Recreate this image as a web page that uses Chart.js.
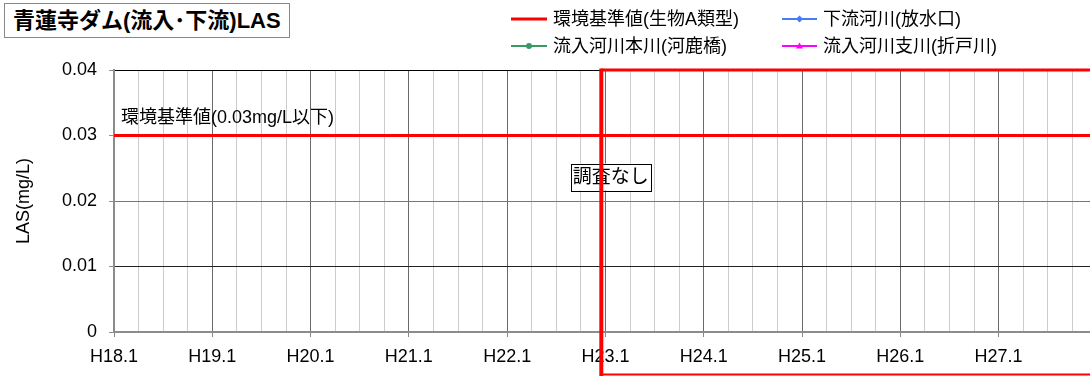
<!DOCTYPE html>
<html>
<head>
<meta charset="utf-8">
<script src="https://cdn.jsdelivr.net/npm/chart.js@4.4.1/dist/chart.umd.min.js"></script>
<style>
html,body{margin:0;padding:0;background:#fff;overflow:hidden;}
#wrap{position:relative;width:1090px;height:376px;background:#fff;}
canvas{position:absolute;left:0;top:0;}
.t{position:absolute;font-family:'Liberation Sans','Noto Sans CJK JP',sans-serif;white-space:nowrap;color:#000;}
#title{left:4px;top:3px;width:286px;height:35px;border:1px solid #888;box-sizing:border-box;font-weight:bold;font-size:22px;line-height:33px;padding-left:8px;background:#fff;}
.leg{font-size:18px;line-height:22px;height:22px;display:flex;align-items:center;}
.leg svg{display:block;margin-right:4px;}
</style>
</head>
<body>
<div id="wrap">
<canvas id="c" width="1090" height="376"></canvas>
<div id="title" class="t">青蓮寺ダム(流入･下流)LAS</div>
<div class="t leg" style="left:509px;top:8px;"><svg width="40" height="22"><line x1="2" y1="11" x2="38" y2="11" stroke="#ff0000" stroke-width="3"/></svg>環境基準値(生物A類型)</div>
<div class="t leg" style="left:779px;top:8px;"><svg width="40" height="22"><line x1="3" y1="11" x2="38" y2="11" stroke="#4a7af5" stroke-width="2"/><rect x="18" y="8.5" width="5" height="5" fill="#4a7af5" transform="rotate(45 20.5 11)"/></svg>下流河川(放水口)</div>
<div class="t leg" style="left:509px;top:35px;"><svg width="40" height="22"><line x1="2" y1="11" x2="38" y2="11" stroke="#3a9a64" stroke-width="2"/><circle cx="20" cy="11" r="3" fill="#3a9a64"/></svg>流入河川本川(河鹿橋)</div>
<div class="t leg" style="left:779px;top:35px;"><svg width="40" height="22"><line x1="3" y1="11" x2="38" y2="11" stroke="#ff00ff" stroke-width="2"/><polygon points="20.5,7.5 24,13.5 17,13.5" fill="#ff00ff"/></svg>流入河川支川(折戸川)</div>
</div>
<script>
// ---- data ----
const xTickLabels = ['H18.1','H19.1','H20.1','H21.1','H22.1','H23.1','H24.1','H25.1','H26.1','H27.1'];
const yTickValues = [0, 0.01, 0.02, 0.03, 0.04];
const standardValue = 0.03;           // 環境基準値 (mg/L)
const seriesNames = ['環境基準値(生物A類型)','下流河川(放水口)','流入河川本川(河鹿橋)','流入河川支川(折戸川)'];
const downstreamValues = [];          // 下流河川(放水口)   – no plotted values
const inflowMainValues = [];          // 流入河川本川(河鹿橋) – no plotted values
const inflowBranchValues = [];        // 流入河川支川(折戸川) – no plotted values
const noSurveyStart = 4.958;          // years after H18.1 (end of H22.12)
const xMaxYears = 9.93;               // visible span in years after H18.1
const standardLabel = '環境基準値(0.03mg/L以下)';
const noSurveyLabel = '調査なし';

const FONT = "'Liberation Sans','Noto Sans CJK JP',sans-serif";
Chart.defaults.font.family = FONT;
Chart.defaults.color = '#000';

const quarterTicks = [];
for (let i = 0; i * 0.25 <= xMaxYears; i++) quarterTicks.push({value: i * 0.25});

const overlay = {
  id: 'overlay',
  afterDraw(chart) {
    const {ctx, scales: {x, y}} = chart;
    ctx.save();
    // standard label
    ctx.font = '18px ' + FONT;
    ctx.fillStyle = '#000';
    ctx.textAlign = 'left';
    ctx.textBaseline = 'middle';
    ctx.fillText(standardLabel, x.getPixelForValue(0) + 7, y.getPixelForValue(standardValue) - 17);
    // no survey box
    const cx = x.getPixelForValue(5.054), cy = y.getPixelForValue(0.02366);
    ctx.fillStyle = '#fff';
    ctx.fillRect(cx - 40, cy - 13.5, 80, 27);
    ctx.strokeStyle = '#000';
    ctx.lineWidth = 1;
    ctx.strokeRect(Math.round(cx - 40) + 0.5, Math.round(cy - 13.5) + 0.5, 80, 27);
    ctx.font = '19px ' + FONT;
    ctx.fillStyle = '#000';
    ctx.textAlign = 'center';
    ctx.fillText(noSurveyLabel, cx, cy + 1);
    // red no-survey frame
    const L = x.getPixelForValue(noSurveyStart);
    const T = y.getPixelForValue(0.04);
    ctx.strokeStyle = '#ff0000';
    ctx.lineWidth = 3;
    ctx.beginPath(); ctx.moveTo(L, T); ctx.lineTo(chart.width + 5, T); ctx.stroke();
    ctx.lineWidth = 2;
    ctx.beginPath(); ctx.moveTo(L, chart.height - 1.5); ctx.lineTo(chart.width + 5, chart.height - 1.5); ctx.stroke();
    ctx.lineWidth = 4;
    ctx.beginPath(); ctx.moveTo(L, T - 1.5); ctx.lineTo(L, chart.height + 2); ctx.stroke();
    ctx.restore();
  }
};

new Chart(document.getElementById('c'), {
  type: 'line',
  data: {
    datasets: [
      {label: seriesNames[0], data: [{x: 0, y: standardValue}, {x: xMaxYears, y: standardValue}],
       borderColor: '#ff0000', borderWidth: 3, pointRadius: 0, order: 0},
      {label: seriesNames[1], data: downstreamValues, borderColor: '#4a7af5', backgroundColor: '#4a7af5', borderWidth: 2, pointStyle: 'rectRot', pointRadius: 3},
      {label: seriesNames[2], data: inflowMainValues, borderColor: '#3a9a64', backgroundColor: '#3a9a64', borderWidth: 2, pointRadius: 3},
      {label: seriesNames[3], data: inflowBranchValues, borderColor: '#ff00ff', backgroundColor: '#ff00ff', borderWidth: 2, pointStyle: 'triangle', pointRadius: 3}
    ]
  },
  options: {
    responsive: false,
    animation: false,
    parsing: true,
    layout: {padding: {top: 70, left: 0, right: 0, bottom: 0}},
    plugins: {legend: {display: false}, title: {display: false}, tooltip: {enabled: false}},
    scales: {
      x: {
        type: 'linear', min: 0, max: xMaxYears,
        afterBuildTicks: s => { s.ticks = quarterTicks.map(t => ({value: t.value})); },
        afterFit: s => { s.height = 44; },
        ticks: {
          autoSkip: false, maxRotation: 0, minRotation: 0, padding: 9,
          font: {size: 18}, color: '#000',
          callback: v => Number.isInteger(v) ? (xTickLabels[v] || '') : ''
        },
        grid: {
          color: c => (c.tick && Number.isInteger(c.tick.value)) ? '#6a6a6a' : '#cccccc',
          lineWidth: 1, tickLength: 5,
          tickColor: c => (c.tick && Number.isInteger(c.tick.value)) ? '#888' : 'rgba(0,0,0,0)'
        },
        border: {color: '#8c8c8c', width: 2}
      },
      y: {
        min: 0, max: 0.04,
        afterBuildTicks: s => { s.ticks = yTickValues.map(v => ({value: v})); },
        afterFit: s => { s.width = 114; },
        ticks: {padding: 12, font: {size: 18}, color: '#000', callback: v => v === 0 ? '0' : v.toFixed(2)},
        grid: {
          color: c => {
            const v = c.tick ? c.tick.value : null;
            if (v === 0) return '#8c8c8c';
            if (v === 0.04) return '#000';
            if (v === 0.01) return '#222';
            return '#777';
          },
          lineWidth: 1, tickLength: 5, tickColor: '#8c8c8c'
        },
        border: {color: '#8c8c8c', width: 2},
        title: {display: true, text: 'LAS(mg/L)', font: {size: 18}, color: '#000', padding: {top: 13, bottom: 0}}
      }
    }
  },
  plugins: [overlay]
});
</script>
</body>
</html>
